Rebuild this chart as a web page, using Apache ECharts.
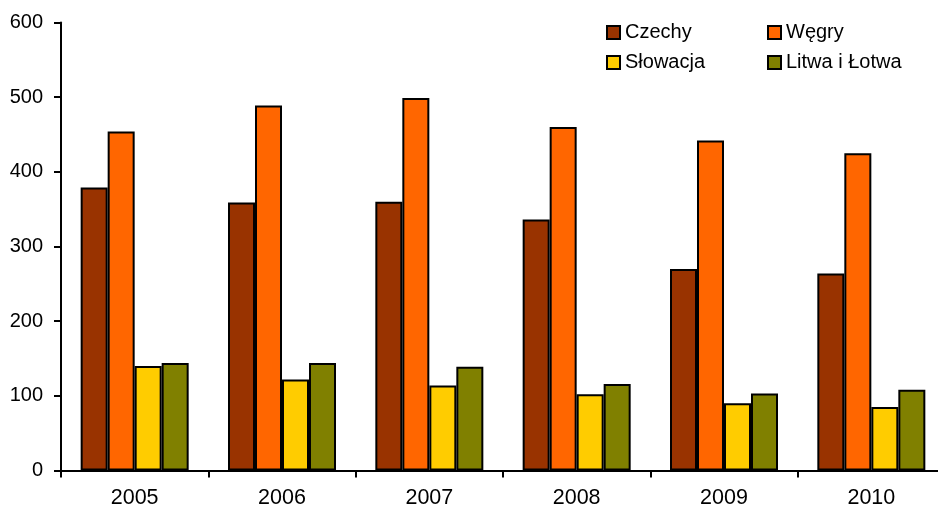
<!DOCTYPE html>
<html><head><meta charset="utf-8">
<script src="https://cdn.jsdelivr.net/npm/echarts@6/dist/echarts.min.js"></script>
<style>html,body{margin:0;padding:0;background:#fff}#c{width:938px;height:509px}</style>
</head><body><div id="c"></div>
<script>
var categories = ['2005','2006','2007','2008','2009','2010'];
var czechy = [379, 359, 360, 336, 270, 264];
var wegry = [454, 489, 499, 460, 442, 425];
var slowacja = [140, 122, 114, 102, 90, 85];
var litwaLotwa = [144, 144, 139, 116, 103, 108];
var yTicks = [0, 100, 200, 300, 400, 500, 600];

var font = 'Liberation Sans, Arial, sans-serif';
function bar(name, data, color) {
  return {name: name, type: 'bar', data: data, barWidth: 27, barGap: '0%',
    itemStyle: {color: color, borderColor: '#000', borderWidth: 2},
    emphasis: {disabled: true}};
}
var chart = echarts.init(document.getElementById('c'));
var legendCommon = {orient: 'vertical', top: 21, itemWidth: 13, itemHeight: 13, itemGap: 7, icon: 'rect',
  textStyle: {fontFamily: font, fontSize: 20, color: '#000', padding: [0,0,0,0], lineHeight: 23},
  itemStyle: {borderColor: '#000', borderWidth: 2}, padding: 0};
chart.setOption({
  animation: false,
  backgroundColor: '#fff',
  legend: [
    Object.assign({left: 606, data: ['Czechy', 'Słowacja']}, legendCommon),
    Object.assign({left: 767, data: ['Węgry', 'Litwa i Łotwa']}, legendCommon)
  ],
  grid: {left: 61, top: 22.5, width: 884, height: 448, containLabel: false, outerBoundsMode: 'none'},
  xAxis: {type: 'category', data: categories,
    axisLine: {lineStyle: {color: '#000', width: 2}},
    axisTick: {show: true, length: 7, lineStyle: {color: '#000', width: 2}},
    axisLabel: {fontFamily: font, fontSize: 21.5, color: '#000', margin: 17}},
  yAxis: {type: 'value', min: yTicks[0], max: yTicks[yTicks.length-1], interval: 100,
    axisLine: {show: true, lineStyle: {color: '#000', width: 2}},
    axisTick: {show: true, length: 7, lineStyle: {color: '#000', width: 2}},
    splitLine: {show: false},
    axisLabel: {fontFamily: font, fontSize: 20, color: '#000', margin: 18}},
  series: [
    bar('Czechy', czechy, '#993300'),
    bar('Węgry', wegry, '#FF6600'),
    bar('Słowacja', slowacja, '#FFCC00'),
    bar('Litwa i Łotwa', litwaLotwa, '#808000')
  ]
});
</script></body></html>
